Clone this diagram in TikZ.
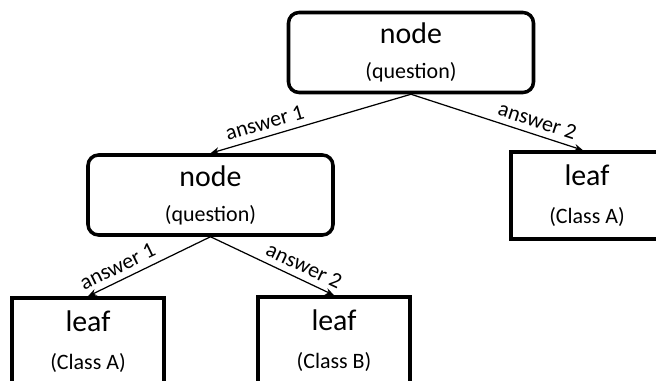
\documentclass[tikz,border=0pt]{standalone}
\usepackage{fontspec}
\setmainfont{Carlito}
\usepackage{tikz}
\usetikzlibrary{positioning,arrows.meta}

\begin{document}
\begin{tikzpicture}[
  font=\fontsize{12.5}{17}\selectfont,
  >={Stealth[length=5pt,width=4pt]},
  arr/.style={->, line width=0.7pt},
  qbox/.style={draw, line width=2pt, rounded corners=6pt, align=center,
               minimum width=4.9cm, minimum height=1.6cm, inner sep=2pt},
  leafbox/.style={draw, line width=2pt, align=center,
                  minimum width=3.04cm, minimum height=1.74cm, inner sep=2pt},
  ans/.style={sloped, above, pos=0.71, inner sep=3.5pt},
]

\useasboundingbox (0,0) rectangle (13.12,7.62);
\clip (0,0) rectangle (13.12,7.62);

%% ===== QUESTION NODES =====
\node[qbox] (qtop) at (8.22,6.57)
    {{\fontsize{17}{20}\selectfont node}\\[3pt](question)};

\node[qbox] (qmid) at (4.21,3.72)
    {{\fontsize{17}{20}\selectfont node}\\[3pt](question)};

%% ===== LEAVES =====
\node[leafbox] (leafR) at (11.74,3.71)
    {{\fontsize{17}{20}\selectfont leaf}\\[5pt](Class A)};

\node[leafbox] (leafA) at (1.76,0.79)
    {{\fontsize{17}{20}\selectfont leaf}\\[5pt](Class A)};

\node[leafbox] (leafB) at (6.68,0.81)
    {{\fontsize{17}{20}\selectfont leaf}\\[5pt](Class B)};

%% ===== ANSWERS =====
\draw[arr] (qtop.south) -- node[ans] {answer 1} (qmid.north);
\draw[arr] (qtop.south) -- node[ans] {answer 2} ([xshift=-0.08cm]leafR.north);
\draw[arr] (qmid.south) -- node[ans] {answer 1} (leafA.north);
\draw[arr] (qmid.south) -- node[ans] {answer 2} (leafB.north);

\end{tikzpicture}
\end{document}
